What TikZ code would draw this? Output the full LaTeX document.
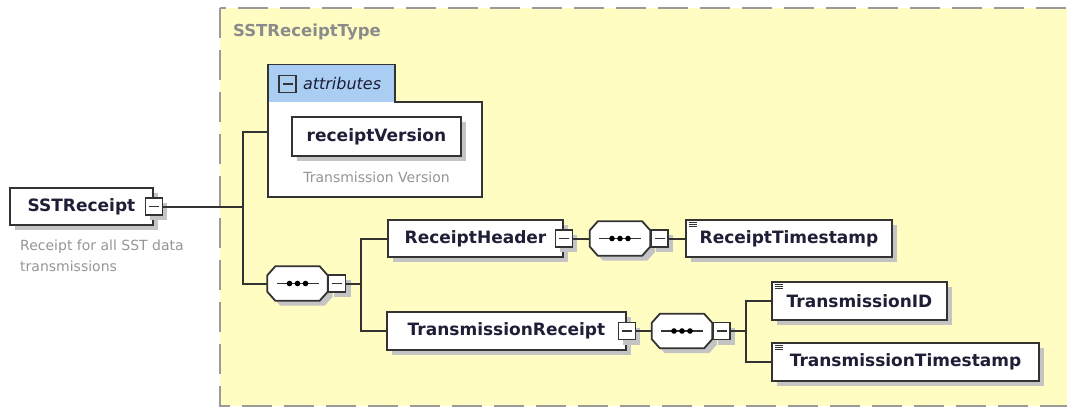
\documentclass[tikz,border=0pt]{standalone}
\usepackage{fontspec}
\setmainfont{DejaVu Sans}
\usetikzlibrary{positioning}
\usetikzlibrary{shadows}
\definecolor{typefill}{HTML}{FFFDC2}
\definecolor{typeline}{HTML}{9A9A9A}
\definecolor{tabfill}{HTML}{A9CDF3}
\definecolor{boxline}{HTML}{333333}
\definecolor{labeltext}{HTML}{1E1E36}
\definecolor{notetext}{HTML}{959595}
\definecolor{shadowgray}{HTML}{C4C4C4}
% octagon round a sequence node
\newcommand\seqoutline[1]{([xshift=8pt]#1.north west) -- ([xshift=-8pt]#1.north east)
    -- ([yshift=-9pt]#1.north east) -- ([yshift=9pt]#1.south east)
    -- ([xshift=-8pt]#1.south east) -- ([xshift=8pt]#1.south west)
    -- ([yshift=9pt]#1.south west) -- ([yshift=-9pt]#1.north west) -- cycle}

\begin{document}
\begin{tikzpicture}[
    x=1pt, y=-1pt,
    boxshadow/.style={
        drop shadow={shadow xshift=5pt, shadow yshift=-5pt,
            fill=shadowgray, opacity=1}
    },
    elem/.style={
        draw=boxline, line width=1.8pt, fill=white, boxshadow,
        minimum height=37pt, inner sep=0pt,
        font=\fontsize{17}{20}\selectfont\bfseries, text=labeltext
    },
    simple/.style={
        elem,
        path picture={
            \foreach \k in {0,1,2}
                \draw[line width=0.8pt, boxline]
                    ([xshift=2.5pt, yshift={-2pt-2.4pt*\k}]path picture bounding box.north west) -- ++(8,0);
        }
    },
    minus/.style={
        draw=boxline, line width=1.6pt, fill=white,
        minimum size=17pt, inner sep=0pt,
        path picture={
            \draw[line width=1.4pt, boxline]
                ([xshift=-5pt]path picture bounding box.center) --
                ([xshift=5pt]path picture bounding box.center);
        }
    },
    seq/.style={minimum width=60pt, minimum height=34pt, inner sep=0pt},
    seqline/.style={draw=boxline, line width=1.8pt, fill=white, boxshadow},
    note/.style={
        font=\fontsize{14}{21}\selectfont, text=notetext,
        inner sep=0pt, align=left
    },
    conn/.style={draw=boxline, line width=2pt}
]
\useasboundingbox (0,0) rectangle (1067,408);

% complex type frame
\draw[typeline, line width=2.5pt, dash pattern=on 30pt off 12pt, fill=typefill]
    (220,8) rectangle (1085,406);
\node[note, anchor=west, font=\fontsize{16.5}{20}\selectfont\bfseries, text=typeline!90!black]
    (typename) at (233,32) {SSTReceiptType};

% root element
\node[elem, minimum width=143pt] (root) at (81.5,206.5) {SSTReceipt};
\node[minus, boxshadow] (rootm) at (root.east) {};
\node[note, anchor=west] (rootnote) at (20,256) {Receipt for all SST data\\transmissions};

% attributes
\node[fill=white, minimum width=214pt, minimum height=95pt, inner sep=0pt] (attrbox) at (375,149.5) {};
\node[fill=tabfill, minimum width=127pt, minimum height=37pt, inner sep=0pt, anchor=south west]
    (tab) at (attrbox.north west) {};
\draw[boxline, line width=1.8pt] (tab.south west) |- (tab.north east) |- (attrbox.north east)
    |- (attrbox.south west) -- cycle;
\node[minus, fill=tabfill] (tabm) at (287.5,84) {};
\node[anchor=west, inner sep=0pt, font=\fontsize{16}{20}\selectfont\itshape, text=labeltext]
    (tablabel) at ([xshift=6pt]tabm.east) {attributes};
\node[elem, minimum width=169pt, minimum height=39pt] (version) at (376.5,136.5) {receiptVersion};
\node[note] (versionnote) at (376.5,177) {Transmission Version};

% sequences and child elements
\node[seq] (seq1) at (297.5,283.5) {};
\path[seqline] \seqoutline{seq1};
\node[minus, boxshadow, anchor=west] (seq1m) at (seq1.east) {};

\node[elem, minimum width=175pt] (head) at (475.5,238.5) {ReceiptHeader};
\node[minus, boxshadow] (headm) at (head.east) {};
\node[seq] (seq2) at (620,238.5) {};
\path[seqline] \seqoutline{seq2};
\node[minus, boxshadow, anchor=west] (seq2m) at (seq2.east) {};
\node[simple, minimum width=206pt] (stamp) at (789,238.5) {ReceiptTimestamp};

\node[elem, minimum width=239pt, minimum height=38pt] (trans) at (506.5,331) {TransmissionReceipt};
\node[minus, boxshadow] (transm) at (trans.east) {};
\node[seq] (seq3) at (682,331) {};
\path[seqline] \seqoutline{seq3};
\node[minus, boxshadow, anchor=west] (seq3m) at (seq3.east) {};
\node[simple, minimum width=175pt, minimum height=38pt] (tid) at (859.5,301) {TransmissionID};
\node[simple, minimum width=267pt, minimum height=38pt] (tts) at (905.5,362) {TransmissionTimestamp};

\foreach \s in {seq1,seq2,seq3} {
    \draw[boxline, line width=1.8pt] ([xshift=-21pt]\s.center) -- ([xshift=21pt]\s.center);
    \foreach \dx in {-8,0,8}
        \fill[black] ([xshift=\dx pt]\s.center) circle (2.8pt);
}

% connectors
\coordinate (j1) at (243,206.5);
\coordinate (j2) at (361,283.5);
\coordinate (j3) at (746,331);
\draw[conn] (rootm.east) -- (j1);
\draw[conn] ([yshift=17.5pt]attrbox.west) -| (j1) |- (seq1.west);
\draw[conn] (seq1m.east) -- (j2);
\draw[conn] (head.west) -| (j2) |- (trans.west);
\draw[conn] (headm.east) -- (seq2.west);
\draw[conn] (seq2m.east) -- (stamp.west);
\draw[conn] (transm.east) -- (seq3.west);
\draw[conn] (seq3m.east) -- (j3);
\draw[conn] (tid.west) -| (j3) |- (tts.west);
\end{tikzpicture}
\end{document}
